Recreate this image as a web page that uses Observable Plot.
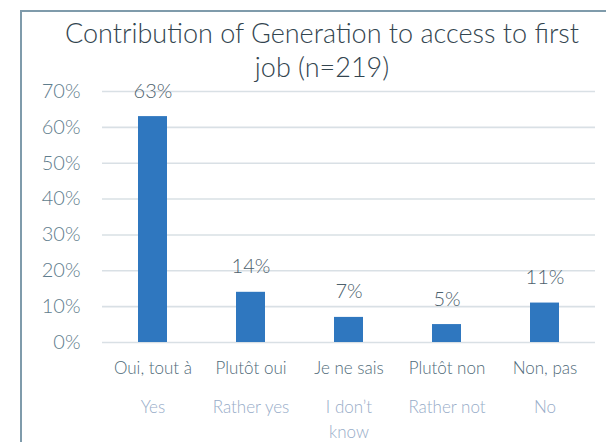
<!DOCTYPE html>
<html><head><meta charset="utf-8">
<script src="https://cdn.jsdelivr.net/npm/d3@7"></script>
<script src="https://cdn.jsdelivr.net/npm/@observablehq/plot@0.6"></script>
<style>
html,body{margin:0;padding:0;background:#fff;overflow:hidden;width:606px;height:442px;}
#wrap{position:relative;width:606px;height:442px;overflow:hidden;font-family:Lato,sans-serif;font-weight:300;}
#box{position:absolute;left:20px;top:10px;width:640px;height:480px;border:2px solid #7f9bab;box-sizing:border-box;}
#title{position:absolute;left:21px;width:602px;top:16px;text-align:center;font-size:27px;line-height:34px;color:#33454f;font-weight:300;pointer-events:none;}
#chart{position:absolute;left:0;top:0;}
</style>
</head><body>
<div id="wrap">
  <div id="box"></div>
  <div id="chart"></div>
  <div id="title">Contribution of Generation to access to first<br>job (n=219)</div>
</div>
<script>
const categories = ["Oui, tout à", "Plutôt oui", "Je ne sais", "Plutôt non", "Non, pas"];
const values = [63, 14, 7, 5, 11];
const englishLabels = ["Yes", "Rather yes", "I don’t\nknow", "Rather not", "No"];
const yTicks = [0, 10, 20, 30, 40, 50, 60, 70];

const data = categories.map((c, i) => ({category: c, value: values[i], english: englishLabels[i]}));

const chart = Plot.plot({
  width: 606,
  height: 442,
  marginLeft: 102,
  marginRight: 11,
  marginTop: 91,
  marginBottom: 100,
  style: {fontFamily: "Lato, sans-serif", fontWeight: 300, background: "transparent"},
  x: {domain: categories, paddingInner: 0.7, paddingOuter: 0.35, label: null},
  y: {domain: [0, 70], label: null},
  marks: [
    Plot.gridY(yTicks, {stroke: "#d9e0e5", strokeOpacity: 1, strokeWidth: 1.6}),
    Plot.axisY(yTicks, {tickSize: 0, tickPadding: 22, tickFormat: d => d + "%", fontSize: 20, fill: "#5f7d8d", label: null}),
    Plot.axisX({tickSize: 0, tickPadding: 19, fontSize: 17, fill: "#4f6a79", label: null}),
    Plot.barY(data, {x: "category", y: "value", fill: "#2f77bf"}),
    Plot.text(data, {x: "category", y: "value", text: d => d.value + "%", lineAnchor: "bottom", dy: -19, fontSize: 20, fill: "#4d616d"}),
    Plot.text(data, {x: "category", text: "english", frameAnchor: "bottom", lineAnchor: "top", dy: 53, fontSize: 17, lineHeight: 1.47, fill: "#97acc8"})
  ]
});
document.getElementById("chart").appendChild(chart);
</script>
</body></html>
